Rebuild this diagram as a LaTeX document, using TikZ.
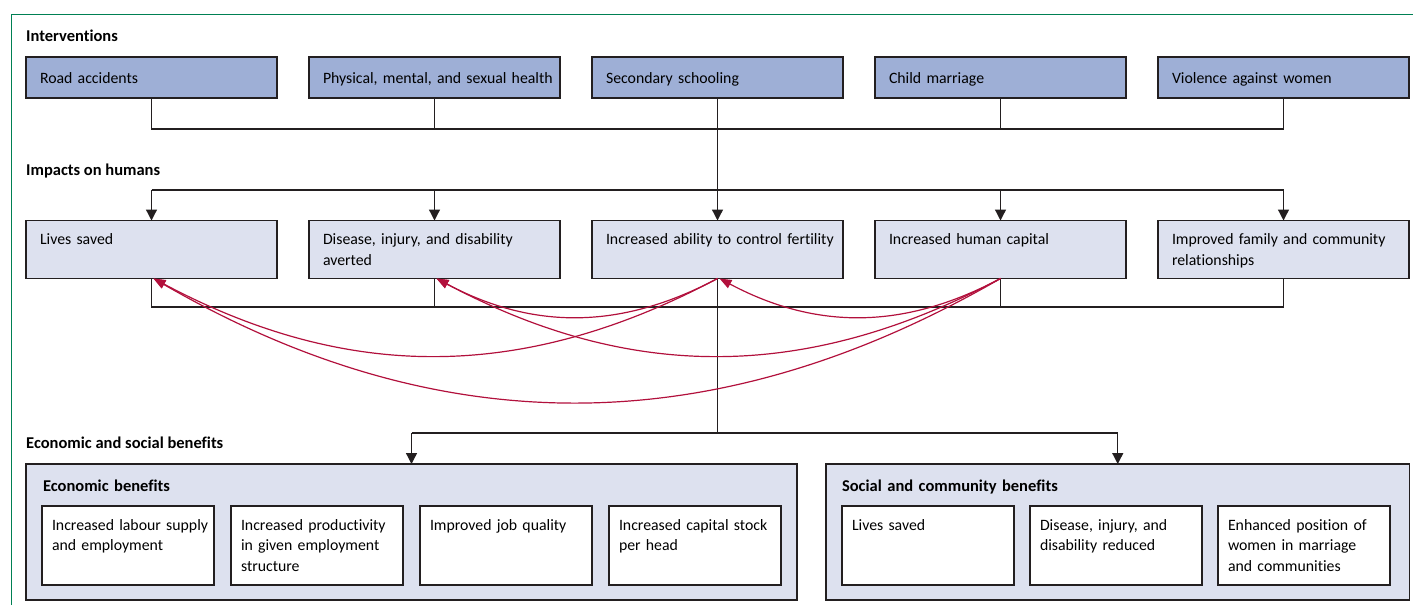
\documentclass[tikz,border=0pt]{standalone}
\usepackage{fontspec}
\setmainfont{Carlito}[Ligatures=NoCommon]
\usetikzlibrary{positioning,arrows.meta}
\definecolor{IntFill}{RGB}{158,175,214}
\definecolor{ImpFill}{RGB}{221,225,239}
\definecolor{LinkRed}{RGB}{178,16,60}
\definecolor{FrameGreen}{RGB}{0,128,84}
\definecolor{LineDark}{RGB}{35,31,32}

\begin{document}
\begin{tikzpicture}[x=1pt,y=-1pt,
node distance=32pt,
cell/.style={rectangle,draw=LineDark,line width=1.3pt,outer sep=0pt,anchor=north west,inner xsep=2pt,inner ysep=0pt,align=left,font=\fontsize{15.8}{20.7}\selectfont},
ivbox/.style={cell,fill=IntFill,text width=247pt,text height=26pt,text depth=15pt,execute at begin node={\leftskip=12pt\hyphenpenalty=10000\relax}},
imbox/.style={cell,fill=ImpFill,text width=247pt,text height=24pt,text depth=34pt,execute at begin node={\leftskip=12pt\hyphenpenalty=10000\relax}},
grp/.style={cell,fill=ImpFill,text height=27pt,text depth=109pt,font=\fontsize{16.5}{20}\selectfont\bfseries},
bnbox/.style={cell,fill=white,text width=168pt,text height=24pt,text depth=55pt,execute at begin node={\leftskip=8pt\hyphenpenalty=10000\relax}},
head/.style={anchor=base west,inner sep=0pt,font=\fontsize{16.5}{20}\selectfont\bfseries},
line/.style={line width=1.3pt,draw=LineDark},
arrow/.style={line,-{Triangle[length=11pt,width=11pt]}},
link/.style={line width=1.2pt,draw=LinkRed,-{Triangle[length=12pt,width=9pt]}},
frame/.style={line width=1pt,draw=FrameGreen}
]
\useasboundingbox (0,0) rectangle (1413,605);
\draw[frame] (11,605) -- (11,14) -- (1413,14);
% interventions
\node[head] (hint) at (26,41.7) {Interventions};
\node[ivbox] (road) at (26,57) {Road accidents};
\node[ivbox,right=of road] (health) {Physical, mental, and sexual health};
\node[ivbox,right=of health] (school) {Secondary schooling};
\node[ivbox,right=of school] (marr) {Child marriage};
\node[ivbox,right=of marr] (viol) {Violence against women};
% impacts on humans
\node[head] (himp) at (26,175) {Impacts on humans};
\node[imbox] (lives) at (26,220.5) {Lives saved};
\node[imbox,right=of lives] (dis) {Disease, injury, and disability\\averted};
\node[imbox,right=of dis] (fert) {Increased ability to control fertility};
\node[imbox,right=of fert] (hcap) {Increased human capital};
\node[imbox,right=of hcap] (family) {Improved family and community\\relationships};
% benefits
\node[head] (hben) at (26,448.3) {Economic and social benefits};
\node[grp,inner xsep=17pt,text width=737pt] (econ) at (26,464) {Economic benefits};
\node[grp,inner xsep=16pt,text width=551.5pt] (social) at (826,464) {Social and community benefits};
\node[bnbox] (labour) at (42,506) {Increased labour supply\\and employment};
\node[bnbox,right=17pt of labour] (prod) {Increased productivity\\in given employment\\structure};
\node[bnbox,right=17pt of prod] (job) {Improved job quality};
\node[bnbox,right=17pt of job] (stock) {Increased capital stock\\per head};
\node[bnbox] (slives) at (842,506) {Lives saved};
\node[bnbox,right=16pt of slives] (sdis) {Disease, injury, and\\disability reduced};
\node[bnbox,right=16pt of sdis] (women) {Enhanced position of\\women in marriage\\and communities};
% connectors
\coordinate (bus1) at (0,129);
\coordinate (bus2) at (0,190);
\coordinate (bus3) at (0,307);
\coordinate (bus4) at (0,433);
\draw[line] (road.south) |- (viol.south |- bus1) -- (viol.south);
\foreach \n in {health,marr} \draw[line] (\n.south) -- (\n.south |- bus1);
\draw[arrow] (school.south) -- (fert.north);
\draw[line] (lives.north |- bus2) -- (family.north |- bus2);
\foreach \n in {lives,dis,hcap,family} \draw[arrow] (\n.north |- bus2) -- (\n.north);
\draw[line] (lives.south) |- (family.south |- bus3) -- (family.south);
\foreach \n in {dis,hcap} \draw[line] (\n.south) -- (\n.south |- bus3);
\draw[line] (fert.south) -- (fert.south |- bus4);
\draw[line] (econ.north |- bus4) -- (social.north |- bus4);
\foreach \n in {econ,social} \draw[arrow] (\n.north |- bus4) -- (\n.north);
% feedback between impacts
\draw[link] (fert.south) to[bend left=28] ([xshift=2pt]lives.south);
\draw[link] (hcap.south) to[bend left=30] ([xshift=2pt]lives.south);
\draw[link] (fert.south) to[bend left=28] ([xshift=2pt]dis.south);
\draw[link] (hcap.south) to[bend left=28] ([xshift=2pt]dis.south);
\draw[link] (hcap.south) to[bend left=28] ([xshift=2pt]fert.south);
\end{tikzpicture}
\end{document}
